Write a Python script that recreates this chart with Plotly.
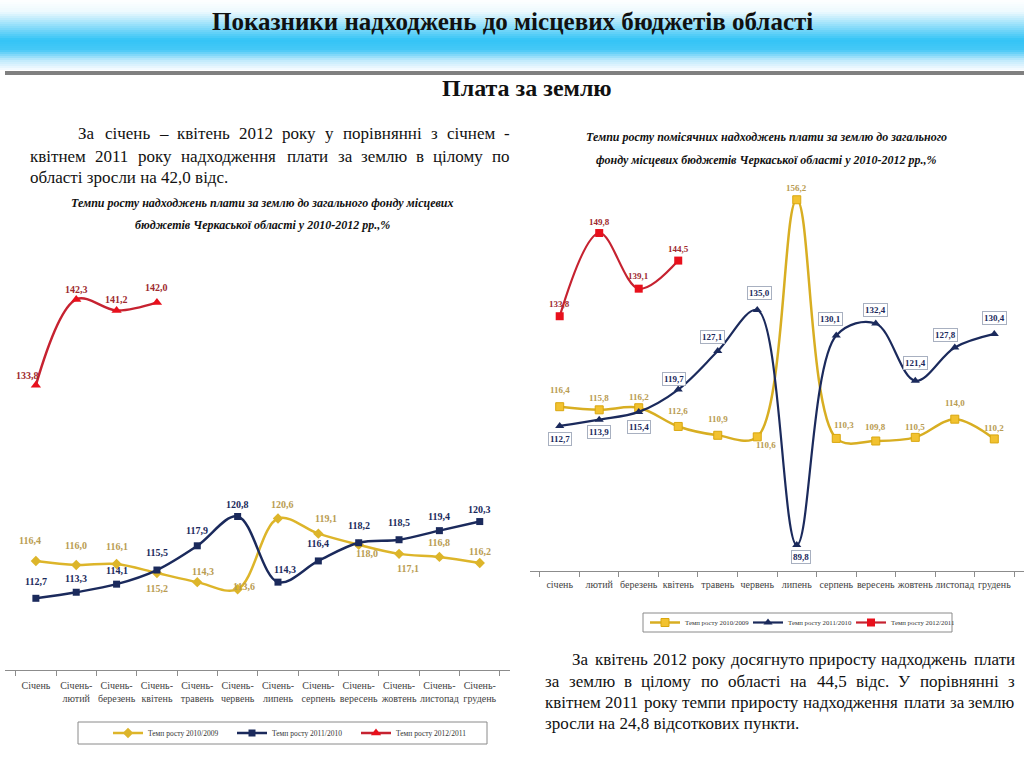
import plotly.graph_objects as go

# ---------------- data ----------------
cum_labels = ["Січень", "Січень-<br>лютий", "Січень-<br>березень", "Січень-<br>квітень",
              "Січень-<br>травень", "Січень-<br>червень", "Січень-<br>липень", "Січень-<br>серпень",
              "Січень-<br>вересень", "Січень-<br>жовтень", "Січень-<br>листопад", "Січень-<br>грудень"]
month_labels = ["січень", "лютий", "березень", "квітень", "травень", "червень",
                "липень", "серпень", "вересень", "жовтень", "листопад", "грудень"]

cum_2010 = [116.4, 116.0, 116.1, 115.2, 114.3, 113.6, 120.6, 119.1, 118.0, 117.1, 116.8, 116.2]
cum_2011 = [112.7, 113.3, 114.1, 115.5, 117.9, 120.8, 114.3, 116.4, 118.2, 118.5, 119.4, 120.3]
cum_2012 = [133.8, 142.3, 141.2, 142.0]

mon_2010 = [116.4, 115.8, 116.2, 112.6, 110.9, 110.6, 156.2, 110.3, 109.8, 110.5, 114.0, 110.2]
mon_2011 = [112.7, 113.9, 115.4, 119.7, 127.1, 135.0, 89.8, 130.1, 132.4, 121.4, 127.8, 130.4]
mon_2012 = [133.8, 149.8, 139.1, 144.5]

series_names = ["Темп росту 2010/2009", "Темп росту 2011/2010", "Темп росту 2012/2011"]

# ---------------- label offsets (style) ----------------
off_c10 = [(-6, 20), (0, 19), (0, 17), (0, -15), (6, 11), (6, 3), (5, 14), (8, 15), (8, -9), (9, -15), (0, 14), (0, 11)]
off_c11 = [(0, 17), (0, 14), (0, 14), (0, 18), (0, 15), (0, 12), (7, 13), (0, 17), (0, 17), (0, 17), (0, 14), (0, 12)]
off_c12 = [(-8, 10), (0, 10), (0, 11), (0, 15)]
off_m10 = [(0, 17), (0, 12), (0, 11), (0, 15), (0, 16), (9, -8), (0, 12), (8, 13), (0, 14), (0, 10), (0, 16), (0, 11)]
off_m11 = [(0, -13), (0, -12), (0, -15), (-4, 11), (-5, 14), (2, 17), (4, -12), (-6, 16), (0, 14), (0, 18), (-9, 12), (0, 16)]
off_m12 = [(0, 12), (0, 11), (0, 13), (0, 12)]

W, H = 1024, 768
def px(x): return x / W
def py(y): return 1 - y / H

SERIF = "Liberation Serif"
GOLD, GOLD_T = "#DDB52A", "#B99C52"
NAVY = "#1B2A5C"
RED, RED_M, RED_T = "#C62230", "#E8101C", "#9E2A2E"

fig = go.Figure()

# left chart traces
fig.add_trace(go.Scatter(x=cum_labels, y=cum_2010, name=series_names[0], mode="lines+markers",
                         line=dict(color=GOLD, width=2.5, shape="spline", smoothing=1),
                         marker=dict(symbol="diamond", size=8, color=GOLD),
                         xaxis="x", yaxis="y", legend="legend"))
fig.add_trace(go.Scatter(x=cum_labels, y=cum_2011, name=series_names[1], mode="lines+markers",
                         line=dict(color=NAVY, width=2.5, shape="spline", smoothing=1),
                         marker=dict(symbol="square", size=7, color=NAVY),
                         xaxis="x", yaxis="y", legend="legend"))
fig.add_trace(go.Scatter(x=cum_labels[:len(cum_2012)], y=cum_2012, name=series_names[2], mode="lines+markers",
                         line=dict(color=RED, width=2.5, shape="spline", smoothing=1),
                         marker=dict(symbol="triangle-up", size=9, color=RED_M),
                         xaxis="x", yaxis="y", legend="legend"))

# right chart traces
fig.add_trace(go.Scatter(x=month_labels, y=mon_2010, name=series_names[0], mode="lines+markers",
                         line=dict(color="#D8AE22", width=2.5, shape="spline", smoothing=1),
                         marker=dict(symbol="square", size=8, color="#F2C230", line=dict(color="#D9A70F", width=1)),
                         xaxis="x2", yaxis="y2", legend="legend2"))
fig.add_trace(go.Scatter(x=month_labels, y=mon_2011, name=series_names[1], mode="lines+markers",
                         line=dict(color=NAVY, width=2.2, shape="spline", smoothing=1),
                         marker=dict(symbol="triangle-up", size=8, color=NAVY),
                         xaxis="x2", yaxis="y2", legend="legend2"))
fig.add_trace(go.Scatter(x=month_labels[:len(mon_2012)], y=mon_2012, name=series_names[2], mode="lines+markers",
                         line=dict(color=RED, width=2.2, shape="spline", smoothing=1),
                         marker=dict(symbol="square", size=8, color=RED_M),
                         xaxis="x2", yaxis="y2", legend="legend2"))

ann = []
def fmt(v): return f"{v:.1f}".replace(".", ",")

def add_labels(cats, vals, offs, xr, yr, color, size, boxed=False):
    for c, v, (dx, dy) in zip(cats, vals, offs):
        a = dict(x=c, y=v, xref=xr, yref=yr, text=f"<b>{fmt(v)}</b>", showarrow=False,
                 xanchor="center", yanchor="middle", xshift=dx, yshift=dy,
                 font=dict(family=SERIF, size=size, color=color))
        if boxed:
            a.update(bgcolor="white", bordercolor="#A8B0C0", borderwidth=1, borderpad=1)
        ann.append(a)

add_labels(cum_labels, cum_2010, off_c10, "x", "y", GOLD_T, 10)
add_labels(cum_labels, cum_2011, off_c11, "x", "y", NAVY, 10)
add_labels(cum_labels, cum_2012, off_c12, "x", "y", RED_T, 10)
add_labels(month_labels, mon_2010, off_m10, "x2", "y2", GOLD_T, 9)
add_labels(month_labels, mon_2011, off_m11, "x2", "y2", NAVY, 9, boxed=True)
add_labels(month_labels, mon_2012, off_m12, "x2", "y2", RED_T, 9)

# ---------------- text ----------------
CW = {'а': .444, 'б': .509, 'в': .472, 'г': .41, 'д': .509, 'е': .444, 'ж': .691, 'з': .395, 'и': .535,
      'й': .535, 'к': .486, 'л': .499, 'м': .633, 'н': .535, 'о': .5, 'п': .535, 'р': .5, 'с': .444,
      'т': .437, 'у': .5, 'ф': .648, 'х': .5, 'ц': .535, 'ч': .503, 'ш': .77, 'щ': .77, 'ь': .456,
      'ю': .722, 'я': .482, 'і': .278, 'ї': .278, 'є': .444, 'З': .6, 'У': .7, ',': .25, '.': .25,
      '-': .333, '–': .5, ' ': .25}
def tw(s, size): return sum(CW.get(ch, .5) for ch in s) * size

def text_line(line, x0, x1, y, size, justify=True):
    words = line.split(" ")
    font = dict(family=SERIF, size=size, color="#111")
    if not justify or len(words) < 2:
        ann.append(dict(x=px(x0), y=py(y), xref="paper", yref="paper", text=line, showarrow=False,
                        xanchor="left", yanchor="middle", font=font, borderpad=0, borderwidth=0))
        return
    widths = [tw(w, size) for w in words]
    gap = (x1 - x0 - sum(widths)) / (len(words) - 1)
    x = x0
    for i, w in enumerate(words):
        if i == len(words) - 1:
            ann.append(dict(x=px(x1), y=py(y), xref="paper", yref="paper", text=w, showarrow=False,
                            xanchor="right", yanchor="middle", font=font, borderpad=0, borderwidth=0))
        else:
            ann.append(dict(x=px(x), y=py(y), xref="paper", yref="paper", text=w, showarrow=False,
                            xanchor="left", yanchor="middle", font=font, borderpad=0, borderwidth=0))
        x += widths[i] + gap

text_line("За січень – квітень 2012 року у порівнянні з січнем -", 78, 510, 134, 17)
text_line("квітнем 2011 року надходження плати за землю в цілому по", 30, 510, 156, 17)
text_line("області зросли на 42,0 відс.", 30, 510, 177, 17, justify=False)

text_line("За квітень 2012 року досягнуто приросту надходжень плати", 572, 1015, 659, 17)
text_line("за землю в цілому по області на 44,5 відс. У порівнянні з", 545, 1015, 681, 17)
text_line("квітнем 2011 року темпи приросту надходження плати за землю", 545, 1015, 702, 17)
text_line("зросли на 24,8 відсоткових пункти.", 545, 1015, 723, 17, justify=False)

def center_text(txt, x, y, size, color="#111"):
    ann.append(dict(x=px(x), y=py(y), xref="paper", yref="paper", text=txt, showarrow=False,
                    xanchor="center", yanchor="middle", font=dict(family=SERIF, size=size, color=color)))

center_text("<b>Показники надходжень до місцевих бюджетів області</b>", 512, 21, 25)
center_text("<b>Плата за землю</b>", 527, 88, 24)
center_text("<b><i>Темпи росту надходжень плати за землю до загального фонду місцевих</i></b>", 262, 203, 12)
center_text("<b><i>бюджетів Черкаської області у 2010-2012 рр.,%</i></b>", 262, 225, 12)
center_text("<b><i>Темпи росту помісячних надходжень плати за землю до загального</i></b>", 766, 137, 12)
center_text("<b><i>фонду місцевих бюджетів Черкаської області у 2010-2012 рр.,%</i></b>", 766, 160, 12)

# ---------------- banner shapes ----------------
stops = [(0, (255, 255, 255)), (12, (236, 249, 254)), (28, (130, 218, 249)), (40, (52, 196, 246)),
         (50, (70, 200, 246)), (60, (190, 233, 252)), (70, (248, 252, 255))]
def col_at(y):
    for (y0, c0), (y1, c1) in zip(stops[:-1], stops[1:]):
        if y0 <= y <= y1:
            t = (y - y0) / (y1 - y0)
            return "rgb(%d,%d,%d)" % tuple(round(a + (b - a) * t) for a, b in zip(c0, c1))
    return "white"
shapes = []
for yy in range(0, 71, 2):
    shapes.append(dict(type="rect", xref="paper", yref="paper", x0=0, x1=1, y0=py(yy + 2), y1=py(yy),
                       fillcolor=col_at(yy + 1), line=dict(width=0), layer="below"))
shapes.append(dict(type="rect", xref="paper", yref="paper", x0=px(5), x1=1, y0=py(75), y1=py(71),
                   fillcolor="#808080", line=dict(width=0)))
# legend frames
shapes.append(dict(type="rect", xref="paper", yref="paper", x0=px(78), x1=px(487), y0=py(744), y1=py(722),
                   fillcolor="white", line=dict(color="#8A8A8A", width=1), layer="below"))
shapes.append(dict(type="rect", xref="paper", yref="paper", x0=px(643), x1=px(952), y0=py(632), y1=py(613),
                   fillcolor="white", line=dict(color="#8A8A8A", width=1), layer="below"))

axis_common = dict(type="category", showline=True, linecolor="#8C8C8C", linewidth=1, ticks="outside",
                   ticklen=5, tickcolor="#8C8C8C", tickson="boundaries", showgrid=False, zeroline=False,
                   tickangle=0, automargin=False, tickfont=dict(family=SERIF, size=10, color="#444"))

fig.update_layout(
    width=W, height=H, autosize=False, margin=dict(l=0, r=0, t=0, b=0, autoexpand=False),
    paper_bgcolor="white", plot_bgcolor="rgba(0,0,0,0)",
    xaxis=dict(domain=[px(5), px(510)], anchor="y", ticklabelstandoff=6, **axis_common),
    yaxis=dict(domain=[py(670), py(260)], range=[105.6, 146.2], visible=False, anchor="x"),
    xaxis2=dict(domain=[px(530), 1.0], anchor="y2", ticklabelstandoff=4, **axis_common),
    yaxis2=dict(domain=[py(571), py(180)], range=[84.8, 160.0], visible=False, anchor="x2"),
    legend=dict(x=px(108), y=py(733), xanchor="left", yanchor="middle", orientation="h",
                borderwidth=0, bgcolor="rgba(0,0,0,0)", entrywidth=79, itemwidth=30,
                font=dict(family=SERIF, size=7.5, color="#333")),
    legend2=dict(x=px(645), y=py(622.5), xanchor="left", yanchor="middle", orientation="h",
                 borderwidth=0, bgcolor="rgba(0,0,0,0)", entrywidth=58, itemwidth=30,
                 font=dict(family=SERIF, size=6.8, color="#333")),
    annotations=ann, shapes=shapes, showlegend=True,
)

fig.write_html("out.html", config={"responsive": False, "displayModeBar": False},
               post_script="document.body.style.margin='0';document.body.style.overflow='hidden';"
                           "document.documentElement.style.overflow='hidden';")
